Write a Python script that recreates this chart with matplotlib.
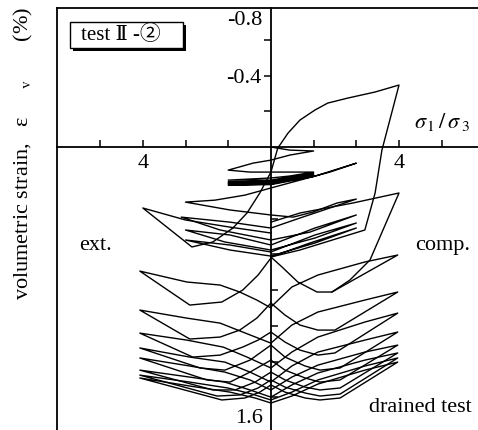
import matplotlib.pyplot as plt
from matplotlib.patches import Rectangle

# x axis: signed stress ratio offset, u = (sigma1/sigma3 - 1) on the
# compression side (right), -(sigma3/sigma1 - 1) on the extension side (left)
# y axis: volumetric strain (%) (plotted downward positive)

# first cycles, sigma ratio 2
small_u = [0, 0.44, 1.0, 0.44, 0, -0.42, -1.0, -0.49, 0, 1.0, 0.44, 0,
           -1.0, 0, 1.0, 0, -1.0, 0, 1.0, 0, -1.0, 0, 1.0, 0, -1.0, 0, 1.0, 0,
           -1.0, 0, 1.0, 2.0, 1.38, 0.68, 0]
small_ev = [0.0, 0.017, 0.022, 0.045, 0.073, 0.09, 0.129, 0.14, 0.14, 0.14, 0.162, 0.173,
            0.185, 0.185, 0.145, 0.19, 0.196, 0.192, 0.151, 0.196, 0.201, 0.198, 0.157, 0.201,
            0.207, 0.204, 0.16, 0.207, 0.213, 0.21, 0.165, 0.09, 0.14, 0.185, 0.229]

# cycles, sigma ratio 3
mid_u = [0, -0.61, -1.31, -2.0, -0.96, 0, 0.52, 0.98, 1.55, 2.0, 1.38, 0.68, 0,
         -0.96, -2.1, -1.19, 0, 0.91, 2.0, 1.03, 0,
         -0.96, -2.0, -1.08, 0, 1.03, 2.0, 1.03, 0,
         -0.96, -2.0, -0.96, 0, 1.03, 2.0, 0.91, 0]
mid_ev = [0.229, 0.269, 0.297, 0.308, 0.352, 0.38, 0.392, 0.364, 0.313, 0.291, 0.341, 0.397, 0.453,
          0.42, 0.392, 0.464, 0.52, 0.476, 0.38, 0.453, 0.548,
          0.492, 0.464, 0.531, 0.576, 0.509, 0.425, 0.492, 0.587,
          0.548, 0.52, 0.576, 0.61, 0.537, 0.453, 0.537, 0.615]

# first cycle with sigma ratio 4
big_u = [0, -0.96, -2.0, -3.0, -1.85, -1.36, -0.89, -0.56, -0.26, 0, 0.16, 0.40, 0.68,
         1.03, 1.33, 1.80, 2.44, 3.0, 2.60, 2.44, 2.20, 0.68, 0]
big_ev = [0.481, 0.448, 0.408, 0.341, 0.559, 0.531, 0.453, 0.369, 0.257, 0.14, 0.006, -0.078,
          -0.151, -0.207, -0.246, -0.274, -0.308, -0.347, 0.017, 0.257, 0.464, 0.576, 0.615]

tip2_u = [0, 0.68, 1.92, 3.0, 2.32, 1.85, 1.43]
tip2_ev = [0.42, 0.369, 0.313, 0.257, 0.632, 0.744, 0.811]

# extension side loops, sigma3/sigma1 = 4
ext_loops = [
    ([0, -0.30, -0.66, -1.15, -1.90, -3.07, -1.97, -1.19, -0.73, -0.33, 0],
     [0.621, 0.716, 0.80, 0.867, 0.884, 0.694, 0.755, 0.772, 0.811, 0.856, 0.90]),
    ([0, -0.33, -0.73, -1.19, -1.90, -3.07, -1.97, -1.19, -0.66, 0],
     [0.873, 0.957, 1.024, 1.063, 1.074, 0.912, 0.957, 0.985, 1.035, 1.097]),
    ([0, -0.30, -0.66, -1.19, -1.83, -3.07, -1.97, -1.12, -0.56, 0],
     [1.035, 1.08, 1.119, 1.164, 1.175, 1.041, 1.08, 1.119, 1.175, 1.236]),
    ([0, -0.49, -1.08, -1.66, -3.07, -1.90, -1.08, -0.49, 0],
     [1.108, 1.192, 1.248, 1.236, 1.124, 1.175, 1.203, 1.259, 1.315]),
    ([0, -0.49, -0.96, -1.50, -3.07, -1.90, -1.08, -0.49, 0],
     [1.192, 1.259, 1.315, 1.303, 1.18, 1.225, 1.259, 1.303, 1.359]),
    ([0, -0.37, -0.84, -1.36, -3.07, -1.90, -1.08, -0.49, 0],
     [1.259, 1.315, 1.359, 1.359, 1.248, 1.287, 1.315, 1.359, 1.399]),
    ([0, -0.30, -0.73, -1.26, -3.07, -1.90, -1.01, -0.44, 0],
     [1.303, 1.348, 1.387, 1.393, 1.276, 1.315, 1.348, 1.382, 1.415]),
    ([0, -0.26, -0.61, -1.15, -3.07, -1.90, -0.96, -0.37, 0],
     [1.331, 1.371, 1.404, 1.415, 1.292, 1.337, 1.371, 1.404, 1.432]),
]

# compression side loops, sigma1/sigma3 = 4
comp_u_a = [0, 0.26, 0.63, 1.08, 1.43, 2.97, 2.20, 1.10, 0.49, 0]
comp_u_b = [0, 0.33, 0.68, 1.10, 1.50, 2.97, 2.20, 1.10, 0.49, 0]
comp_u_c = [0, 0.33, 0.80, 1.15, 1.62, 2.97, 2.20, 1.10, 0.49, 0]
comp_loops = [
    (comp_u_a, [0.615, 0.671, 0.755, 0.811, 0.811, 0.604, 0.643, 0.716, 0.783, 0.895]),
    (comp_u_b, [0.873, 0.94, 0.996, 1.024, 1.024, 0.811, 0.856, 0.923, 0.996, 1.097]),
    (comp_u_b, [1.035, 1.091, 1.136, 1.164, 1.152, 0.929, 0.979, 1.063, 1.147, 1.236]),
    (comp_u_c, [1.108, 1.175, 1.225, 1.248, 1.236, 1.035, 1.08, 1.147, 1.225, 1.315]),
    (comp_u_c, [1.192, 1.248, 1.292, 1.315, 1.303, 1.108, 1.147, 1.22, 1.287, 1.359]),
    (comp_u_c, [1.259, 1.303, 1.343, 1.359, 1.348, 1.152, 1.192, 1.264, 1.331, 1.399]),
    (comp_u_c, [1.303, 1.343, 1.376, 1.393, 1.382, 1.18, 1.225, 1.303, 1.371, 1.415]),
    (comp_u_c, [1.331, 1.371, 1.404, 1.415, 1.404, 1.203, 1.248, 1.326, 1.393, 1.432]),
]

x_ticks = [-4, -3, -2, -1, 1, 2, 3, 4]
x_labels = ['', '4', '', '', '', '', '4', '']

plt.rcParams['font.family'] = ['Liberation Serif', 'DejaVu Serif']
plt.rcParams['mathtext.fontset'] = 'stix'

fig = plt.figure(figsize=(4.78, 4.30), dpi=100)
pos = [57 / 478, 0.0, 421 / 478, 422 / 430]

frame = fig.add_axes(pos)
frame.set_xticks([])
frame.set_yticks([])
frame.spines['right'].set_visible(False)
frame.spines['bottom'].set_visible(False)
frame.spines['left'].set_linewidth(1.3)
frame.spines['top'].set_linewidth(1.3)

ax = fig.add_axes(pos)
ax.patch.set_alpha(0)
ax.set_xlim(-5.01, 4.85)
ax.set_ylim(1.583, -0.778)
ax.spines['left'].set_position(('data', 0))
ax.spines['bottom'].set_position(('data', 0))
ax.spines['top'].set_visible(False)
ax.spines['right'].set_visible(False)
ax.spines['left'].set_linewidth(1.3)
ax.spines['bottom'].set_linewidth(1.3)

lw = 1.0
ax.plot(small_u, small_ev, color='black', lw=lw)
ax.plot(mid_u, mid_ev, color='black', lw=lw)
ax.plot(big_u, big_ev, color='black', lw=lw)
ax.plot(tip2_u, tip2_ev, color='black', lw=lw)
for u, ev in ext_loops:
    ax.plot(u, ev, color='black', lw=lw)
for u, ev in comp_loops:
    ax.plot(u, ev, color='black', lw=lw)

ax.set_xticks(x_ticks)
ax.set_xticklabels(x_labels, fontsize=16)
ax.tick_params(axis='x', direction='in', length=5, width=1.1, pad=5)

ax.set_yticks([-0.6, -0.4, -0.2])
ax.set_yticklabels(['', '-0.4', ''], fontsize=16)
ax.set_yticks([0.2, 0.4, 0.6, 0.8, 1.0, 1.2, 1.4], minor=True)
ax.tick_params(axis='y', which='major', direction='out', length=5, width=1.1, pad=2)
ax.tick_params(axis='y', which='minor', direction='in', length=5, width=1.1)

ax.text(-0.19, -0.71, '-0.8', fontsize=16, ha='right', va='center')
ax.text(-0.19, 1.516, '1.6', fontsize=16, ha='right', va='center')
ax.text(4.0, -0.14, r'$\sigma_{\,\mathrm{1}}\,/\,\sigma_{\;\mathrm{3}}$', fontsize=16,
        ha='center', va='center')
ax.text(-4.12, 0.548, 'ext.', fontsize=16, ha='center', va='center')
ax.text(4.03, 0.548, 'comp.', fontsize=16, ha='center', va='center')
ax.text(3.49, 1.455, 'drained test', fontsize=16, ha='center', va='center')

fig.text(23 / 478, 1 - 300 / 430,
         'volumetric strain,   ε     ' + r'${}_{\mathrm{v}}$' + '       (%)',
         rotation=90, fontsize=16, ha='center', va='bottom')

# label box with shadow
fig.patches.append(Rectangle((73 / 478, 1 - 51 / 430), 113 / 478, 26 / 430,
                             transform=fig.transFigure, facecolor='black', edgecolor='none'))
fig.patches.append(Rectangle((70 / 478, 1 - 48 / 430), 113 / 478, 26 / 430,
                             transform=fig.transFigure, facecolor='white', edgecolor='black', lw=1.0))
fig.text(81 / 478, 1 - 35 / 430, 'test Ⅱ -②', fontsize=15, ha='left', va='center',
         family=['Liberation Serif', 'DejaVu Serif', 'Noto Sans CJK JP', 'DejaVu Sans'])

fig.savefig('out.png', dpi=100)
